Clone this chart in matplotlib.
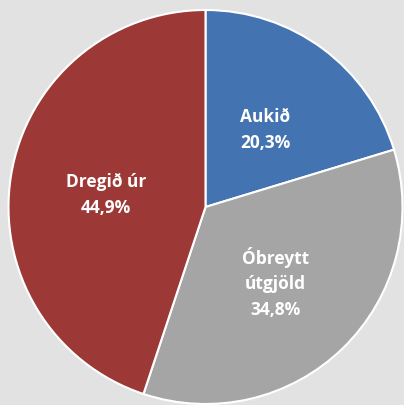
import numpy as np
import matplotlib.pyplot as plt

# --- DATOS ---
labels = ['Aukið', 'Óbreytt\nútgjöld', 'Dregið úr']
values = [20.3, 34.8, 44.9]
colors = ['#4374b1', '#a5a5a5', '#9c3836']

plt.rcParams['font.family'] = ['Open Sans', 'DejaVu Sans']

fig = plt.figure(figsize=(4.04, 4.05), dpi=100, facecolor='#e2e2e2')
ax = fig.add_axes([0, 0, 1, 1])
ax.set_facecolor('#e2e2e2')

wedges, _ = ax.pie(values, colors=colors, startangle=90, counterclock=False,
                   radius=1, wedgeprops=dict(edgecolor='white', linewidth=1.5))

# etiquetas dentro de cada porción
for w, lab, v in zip(wedges, labels, values):
    ang = np.deg2rad((w.theta1 + w.theta2) / 2)
    x, y = 0.51 * np.cos(ang), 0.51 * np.sin(ang) - 0.02
    txt = f"{lab}\n{v:.1f}%".replace('.', ',')
    ax.text(x, y, txt, ha='center', va='center', color='white',
            fontsize=12.5, fontweight='bold', linespacing=1.55)

# centro en (205.5, 207) px, radio 197 px
ax.set_xlim(-205.5 / 197, (404 - 205.5) / 197)
ax.set_ylim(-(405 - 207) / 197, 207 / 197)
ax.set_aspect('auto')
ax.axis('off')

fig.savefig('out.png', dpi=100, facecolor=fig.get_facecolor())
